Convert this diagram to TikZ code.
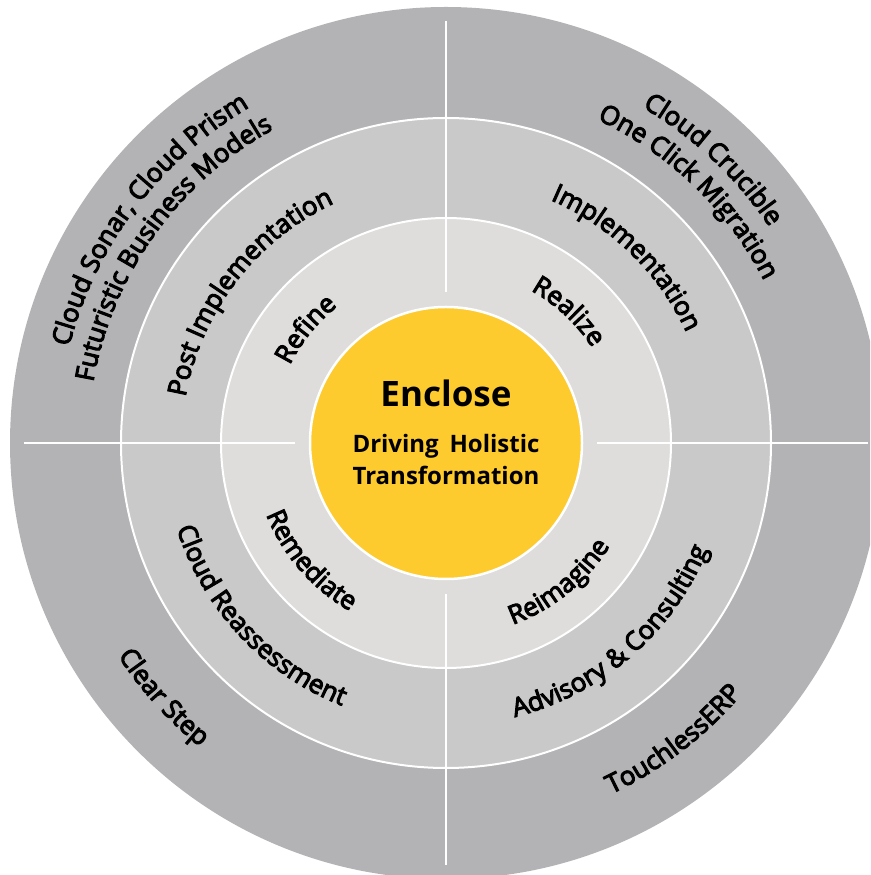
\documentclass[tikz,border=0pt]{standalone}
\usepackage{fontspec}
\setmainfont{Open Sans}
\newfontfamily\ringfam[FakeBold=4]{Open Sans}
\newcommand\ringfont{\ringfam\fontsize{26}{30}\selectfont}
\usetikzlibrary{decorations.text}
\definecolor{outerc}{HTML}{B3B3B5}
\definecolor{midc}{HTML}{C9C9CA}
\definecolor{innc}{HTML}{DEDDDC}
\definecolor{yel}{HTML}{FDCB2E}
\newcommand\arctext[4]{%
  \path[decorate, decoration={text along path, text align=center,
    text={|\ringfont|#4}}] (c) ++(#2:#1) arc[start angle=#2, end angle=#3, radius=#1];}
\tikzset{
  ring/.style={draw=white, line width=2pt},
  sep/.style={draw=white, line width=2pt},
  title/.style={anchor=base, font=\bfseries\fontsize{35}{40}\selectfont},
  sub/.style={anchor=base, font=\bfseries\fontsize{24}{28}\selectfont}
}
\begin{document}
\begin{tikzpicture}[x=1pt,y=1pt]
\useasboundingbox (0,0) rectangle (870,875);
\clip (0,0) rectangle (870,875);
\coordinate (c) at (446,432);
% rings
\fill[outerc] (c) circle[radius=436];
\filldraw[fill=midc, ring] (c) circle[radius=325];
\filldraw[fill=innc, ring] (c) circle[radius=225];
% separators
\foreach \a in {0,90,180,270}
  \draw[sep] (c) ++(\a:151) -- ++(\a:271);
% core
\filldraw[fill=yel, draw=white, line width=2.5pt] (c) circle[radius=136];
\node[title] (enc) at (446,468) {Enclose};
\node[sub] (drv) at (446,422) {Driving\hspace{0.45em}Holistic};
\node[sub] (trf) at (446,390) {Transformation};
% inner ring
\arctext{174.5}{201}{81}{Refine}
\arctext{174.5}{107}{-13}{Realize}
\arctext{193.5}{161}{281}{Remediate}
\arctext{193.5}{249}{369}{Reimagine}
% middle ring
\arctext{264.5}{202.5}{82.5}{Post Implementation}
\arctext{264.5}{105.7}{-14.3}{Implementation}
\arctext{282.5}{163}{283}{Cloud Reassessment}
\arctext{282.5}{251}{371}{Advisory {\&} Consulting}
% outer ring
\arctext{389}{193}{93}{Cloud Sonar, Cloud Prism}
\arctext{358}{194.5}{94.5}{Futuristic Business Models}
\arctext{389}{96.7}{-3.3}{Cloud Crucible}
\arctext{357}{96}{-4}{One Click Migration}
\arctext{391}{172}{272}{Clear Step}
\arctext{388}{257.5}{357.5}{TouchlessERP}
\end{tikzpicture}
\end{document}
